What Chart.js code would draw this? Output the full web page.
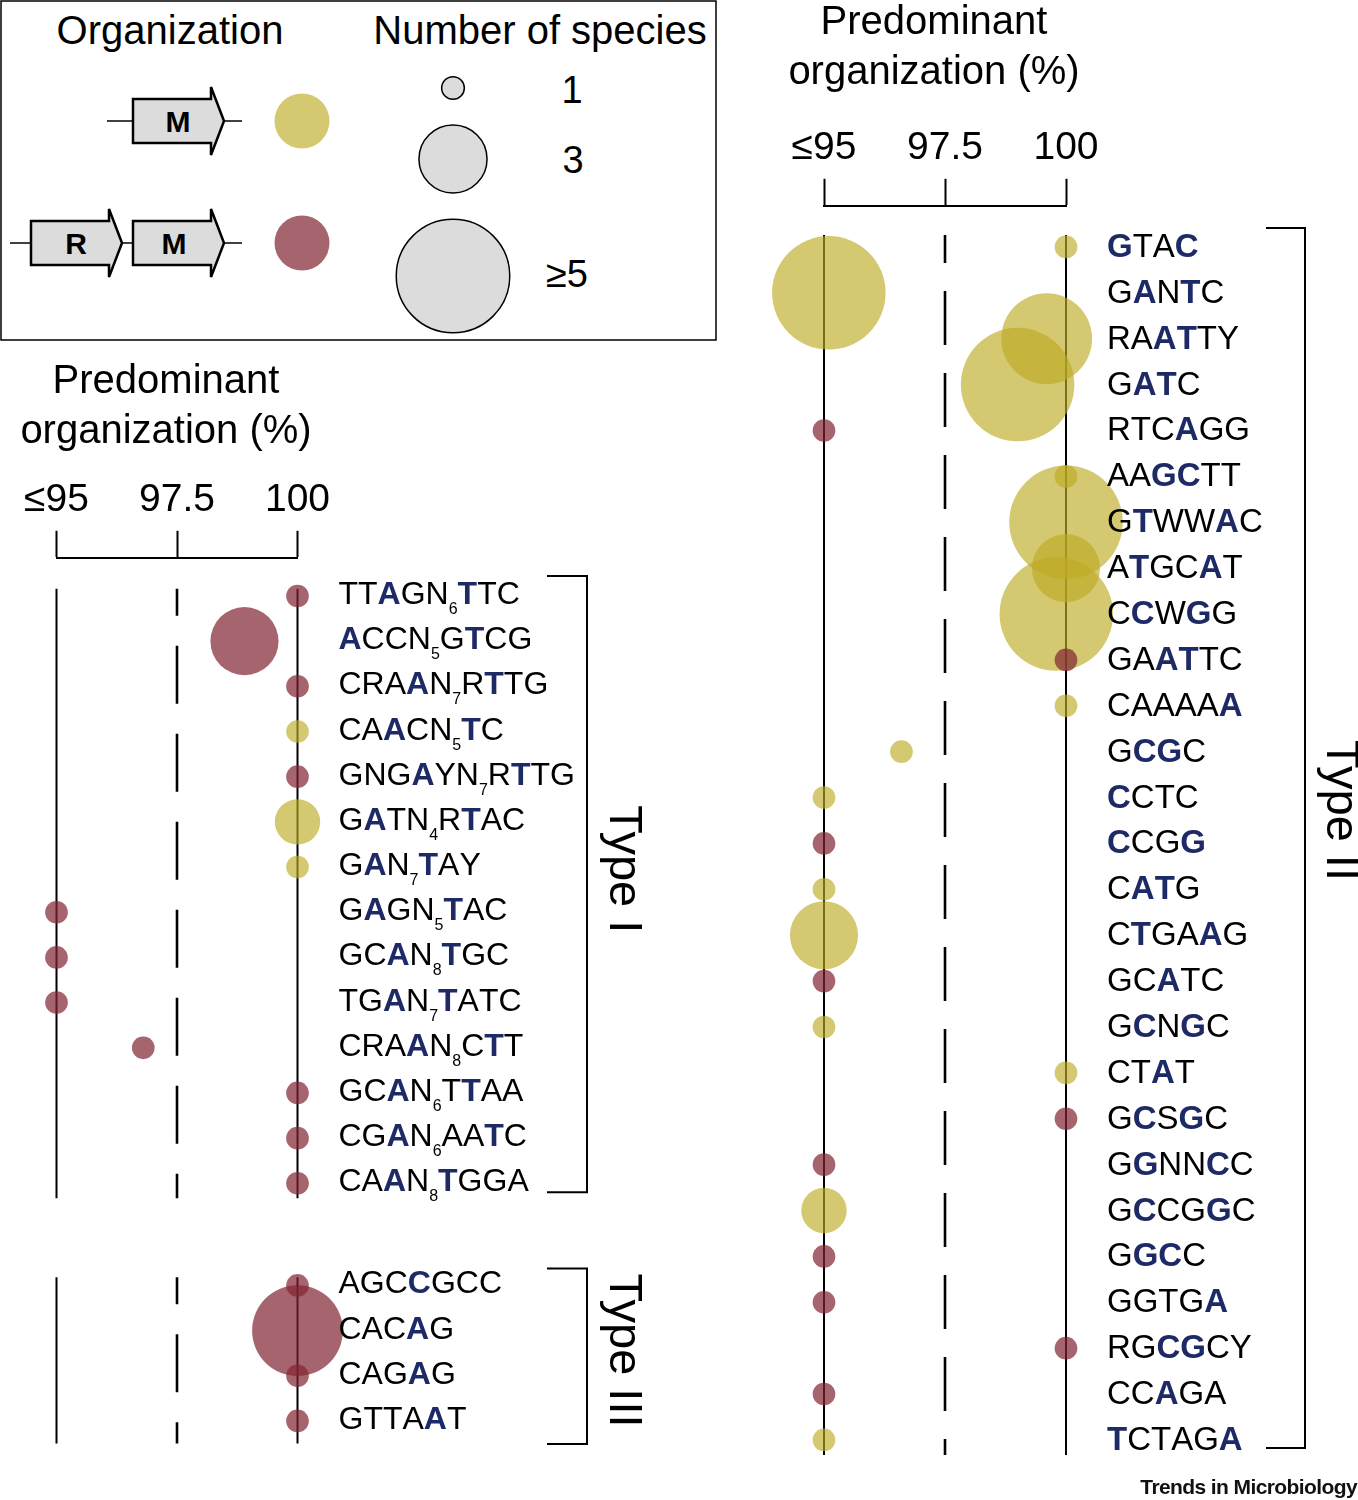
<!DOCTYPE html>
<html><head><meta charset="utf-8">
<script src="https://cdn.jsdelivr.net/npm/chart.js@4.4.1/dist/chart.umd.min.js"></script>
<style>
html,body{margin:0;padding:0;background:#fff;}
body{width:1358px;height:1500px;overflow:hidden;position:relative;font-family:"Liberation Sans",Arial,Helvetica,sans-serif;}
#legend{position:absolute;left:0;top:0;}
#cLeft{position:absolute;left:0;top:345px;}
#cRight{position:absolute;left:720px;top:-20px;}
#credit{position:absolute;right:1px;top:1476px;font:bold 21px "Liberation Sans",Arial,sans-serif;letter-spacing:-0.6px;line-height:22px;color:#111;}
</style></head><body>
<svg id="legend" width="720" height="345" xmlns="http://www.w3.org/2000/svg"></svg>
<canvas id="cLeft" width="720" height="1155"></canvas>
<canvas id="cRight" width="638" height="1520"></canvas>
<div id="credit">Trends in Microbiology</div>
<script>
// ---------------- DATA ----------------
const TICK_VALUES = [95, 97.5, 100];
const TICK_LABELS = ['≤95', '97.5', '100'];
const AXIS_TITLE = ['Predominant', 'organization (%)'];
const SPECIES_KEYS = [1, 3, 5];
const SPECIES_LABELS = ['1', '3', '≥5'];
const ORG_KEYS = ['M', 'RM'];

// [X] = bold blue letter, {n} = subscript
const typeI_motifs = ['TT[A]GN{6}[T]TC', '[A]CCN{5}G[T]CG', 'CRA[A]N{7}R[T]TG', 'CA[A]CN{5}[T]C',
  'GNG[A]YN{7}R[T]TG', 'G[A]TN{4}R[T]AC', 'G[A]N{7}[T]AY', 'G[A]GN{5}[T]AC', 'GC[A]N{8}[T]GC',
  'TG[A]N{7}[T]ATC', 'CRA[A]N{8}C[T]T', 'GC[A]N{6}T[T]AA', 'CG[A]N{6}AA[T]C', 'CA[A]N{8}[T]GGA'];
const typeI_pct     = [100, 98.9, 100, 100, 100, 100, 100, 95, 95, 95, 96.8, 100, 100, 100];
const typeI_species = [1, 3, 1, 1, 1, 2, 1, 1, 1, 1, 1, 1, 1, 1];
const typeI_org     = ['RM', 'RM', 'RM', 'M', 'RM', 'M', 'M', 'RM', 'RM', 'RM', 'RM', 'RM', 'RM', 'RM'];

const typeIII_motifs  = ['AGC[C]GCC', 'CAC[A]G', 'CAG[A]G', 'GTTA[A]T'];
const typeIII_pct     = [100, 100, 100, 100];
const typeIII_species = [1, 4, 1, 1];
const typeIII_org     = ['RM', 'RM', 'RM', 'RM'];

const typeII_motifs = ['[G]TA[C]', 'G[A]N[T]C', 'RA[AT]TY', 'G[AT]C', 'RTC[A]GG', 'AA[GC]TT', 'G[T]WW[A]C',
  'A[T]GC[A]T', 'C[C]W[G]G', 'GA[AT]TC', 'CAAAA[A]', 'G[CG]C', '[C]CTC', '[C]CG[G]', 'C[AT]G', 'C[T]GA[A]G',
  'GC[A]TC', 'G[C]N[G]C', 'CT[A]T', 'G[C]S[G]C', 'G[G]NN[C]C', 'G[C]CG[G]C', 'G[GC]C', 'GGTG[A]',
  'RG[CG]CY', 'CC[A]GA', '[T]CTAG[A]'];
const typeII_pct     = [100, 95.1, 99.6, 99.0, 95, 100, 100, 100, 99.8, 100, 100, 96.6, 95, 95, 95, 95,
  95, 95, 100, 100, 95, 95, 95, 95, 100, 95, 95];
const typeII_species = [1, 5, 4, 5, 1, 1, 5, 3, 5, 1, 1, 1, 1, 1, 1, 3, 1, 1, 1, 1, 1, 2, 1, 1, 1, 1, 1];
const typeII_org     = ['M', 'M', 'M', 'M', 'RM', 'M', 'M', 'M', 'M', 'RM', 'M', 'M', 'M', 'RM', 'M', 'M',
  'RM', 'M', 'M', 'RM', 'RM', 'M', 'RM', 'RM', 'RM', 'RM', 'M'];

// ---------------- STYLE ----------------
const FONT = '"Liberation Sans", Arial, Helvetica, sans-serif';
const ORG_COLORS = {M: 'rgba(189,170,35,0.65)', RM: 'rgba(128,36,48,0.7)'};
const BLUE = '#1e2a66';
const R_UNIT = 11.35; // px radius per species
Chart.defaults.font.family = FONT;
Chart.defaults.color = '#000';

// ---------------- LEGEND (SVG) ----------------
(function buildLegend() {
  const svg = document.getElementById('legend');
  const NS = 'http://www.w3.org/2000/svg';
  function el(tag, attrs, text) {
    const e = document.createElementNS(NS, tag);
    for (const k in attrs) e.setAttribute(k, attrs[k]);
    if (text !== undefined) e.textContent = text;
    svg.appendChild(e); return e;
  }
  const tf = {'font-family': FONT, fill: '#000'};
  el('rect', {x: 1, y: 1, width: 715, height: 339, fill: 'none', stroke: '#000', 'stroke-width': 1.5});
  el('text', Object.assign({x: 170, y: 44, 'text-anchor': 'middle', 'font-size': 40}, tf), 'Organization');
  el('text', Object.assign({x: 540, y: 44, 'text-anchor': 'middle', 'font-size': 40}, tf), 'Number of species');
  function gene(x0, x1, tip, cy, letter, lx) {
    el('polygon', {points: `${x0},${cy-22} ${x1},${cy-22} ${x1},${cy-34} ${tip},${cy} ${x1},${cy+34} ${x1},${cy+22} ${x0},${cy+22}`,
      fill: '#dcdcdc', stroke: '#000', 'stroke-width': 2.5, 'stroke-linejoin': 'miter'});
    el('text', Object.assign({x: lx, y: cy + 11, 'text-anchor': 'middle', 'font-size': 30, 'font-weight': 'bold'}, tf), letter);
  }
  function line(x0, x1, y) { el('line', {x1: x0, y1: y, x2: x1, y2: y, stroke: '#000', 'stroke-width': 1.5}); }
  line(107, 133, 121); line(224, 242, 121);
  gene(133, 211, 224, 121, 'M', 178);
  line(10, 31, 243); line(122, 133, 243); line(224, 242, 243);
  gene(31, 109, 122, 243, 'R', 76);
  gene(133, 211, 224, 243, 'M', 174);
  el('circle', {cx: 302, cy: 121, r: 27.5, fill: ORG_COLORS[ORG_KEYS[0]]});
  el('circle', {cx: 302, cy: 243, r: 27.5, fill: ORG_COLORS[ORG_KEYS[1]]});
  const cys = [88, 159, 276], bls = [103, 173, 287], lxs = [572, 573, 567];
  SPECIES_KEYS.forEach((n, i) => {
    el('circle', {cx: 453, cy: cys[i], r: R_UNIT * n, fill: '#dcdcdc', stroke: '#000', 'stroke-width': 1.5});
    el('text', Object.assign({x: lxs[i], y: bls[i], 'text-anchor': 'middle', 'font-size': 38}, tf), SPECIES_LABELS[i]);
  });
})();

// ---------------- CHARTS ----------------
function drawMotif(ctx, s, x, y, size, subSize, subDy) {
  let bold = false, sub = false;
  ctx.textAlign = 'left'; ctx.textBaseline = 'alphabetic';
  for (const ch of s) {
    if (ch === '[') { bold = true; continue; }
    if (ch === ']') { bold = false; continue; }
    if (ch === '{') { sub = true; continue; }
    if (ch === '}') { sub = false; continue; }
    const fs = sub ? subSize : size;
    ctx.font = (bold ? 'bold ' : '') + fs + 'px ' + FONT;
    ctx.fillStyle = bold ? BLUE : '#000';
    ctx.fillText(ch, x, sub ? y + subDy : y);
    x += ctx.measureText(ch).width;
  }
}

function makeChart(canvasId, groups, L) {
  const datasets = [];
  ['RM', 'M'].forEach((key, k) => {
    const data = [];
    groups.forEach(g => g.pct.forEach((p, i) => {
      if (g.org[i] === key) data.push({x: p, y: g.start + i, r: R_UNIT * Math.min(g.species[i], 5)});
    }));
    datasets.push({type: 'bubble', data, backgroundColor: ORG_COLORS[key], borderWidth: 0, order: k, clip: false});
  });
  groups.forEach(g => {
    const y0 = g.start - g.lineTop, y1 = g.start + g.motifs.length - 1 + g.lineBot;
    TICK_VALUES.forEach((v, j) => {
      const dashed = j > 0 && j < TICK_VALUES.length - 1;
      datasets.push({type: 'line', data: [{x: v, y: y0}, {x: v, y: y1}], borderColor: '#000',
        borderWidth: dashed ? 2.6 : 2, borderDash: dashed ? L.dash : [], borderDashOffset: dashed ? L.dashOffset : 0,
        pointRadius: 0, fill: false, tension: 0, order: 2, clip: false});
    });
  });

  const annot = {
    id: 'annot',
    afterDraw(chart) {
      const ctx = chart.ctx;
      ctx.save();
      ctx.font = '40px ' + FONT; ctx.textAlign = 'center'; ctx.textBaseline = 'middle'; ctx.fillStyle = '#000';
      AXIS_TITLE.forEach((t, i) => ctx.fillText(t, L.titleX, L.titleY + i * L.titleLH));
      ctx.restore();
    },
    afterDatasetsDraw(chart) {
      const ctx = chart.ctx, xs = chart.scales.x, ys = chart.scales.y;
      const x100 = xs.getPixelForValue(TICK_VALUES[TICK_VALUES.length - 1]);
      ctx.save();
      groups.forEach(g => {
        g.motifs.forEach((m, i) => drawMotif(ctx, m, x100 + L.labelGap,
          ys.getPixelForValue(g.start + i) + L.baseDy, L.fontSize, L.subSize, L.subDy));
        const yTop = ys.getPixelForValue(g.start) - g.brTop;
        const yBot = ys.getPixelForValue(g.start + g.motifs.length - 1) + g.brBot;
        const bx = x100 + L.bracketX;
        ctx.beginPath();
        ctx.moveTo(bx - L.bracketW, yTop); ctx.lineTo(bx, yTop); ctx.lineTo(bx, yBot); ctx.lineTo(bx - L.bracketW, yBot);
        ctx.lineWidth = 2; ctx.strokeStyle = '#000'; ctx.stroke();
        const yMid = ys.getPixelForValue(g.start + (g.motifs.length - 1) / 2 + g.labelShift);
        ctx.save();
        ctx.translate(bx + L.typeDx, yMid); ctx.rotate(Math.PI / 2);
        ctx.font = '47px ' + FONT; ctx.textAlign = 'center'; ctx.textBaseline = 'alphabetic'; ctx.fillStyle = '#000';
        ctx.fillText(g.name, 0, 0);
        ctx.restore();
      });
      ctx.restore();
    }
  };

  return new Chart(document.getElementById(canvasId), {
    type: 'bubble',
    data: {datasets},
    options: {
      responsive: false, animation: false, devicePixelRatio: 1, events: [],
      layout: {padding: L.padding, autoPadding: false},
      plugins: {legend: {display: false}, tooltip: {enabled: false}},
      scales: {
        x: {
          type: 'linear', position: 'top', min: TICK_VALUES[0], max: TICK_VALUES[TICK_VALUES.length - 1],
          afterBuildTicks: s => { s.ticks = TICK_VALUES.map(v => ({value: v})); },
          ticks: {callback: v => TICK_LABELS[TICK_VALUES.indexOf(v)], font: {size: 39}, color: '#000',
            padding: 7, maxRotation: 0, autoSkip: false},
          grid: {drawOnChartArea: false, drawTicks: true, tickLength: 27, tickWidth: 2, tickColor: '#000'},
          border: {display: true, color: '#000', width: 2},
          title: {display: false}
        },
        y: {type: 'linear', display: false, reverse: true, min: L.yMin, max: L.yMax}
      }
    },
    plugins: [annot]
  });
}

const TYPE_I_START = 0;
const TYPE_III_START = typeI_motifs.length - 1 + 2.26;

makeChart('cLeft', [
  {name: 'Type I', motifs: typeI_motifs, pct: typeI_pct, species: typeI_species, org: typeI_org,
   start: TYPE_I_START, lineTop: 0.16, lineBot: 0.33, brTop: 20, brBot: 9, labelShift: -0.45},
  {name: 'Type III', motifs: typeIII_motifs, pct: typeIII_pct, species: typeIII_species, org: typeIII_org,
   start: TYPE_III_START, lineTop: 0.18, lineBot: 0.5, brTop: 17, brBot: 23, labelShift: -0.06}
], {padding: {left: 56.5, right: 422.5, top: 125, bottom: 40}, yMin: -0.845, yMax: 19.124,
    titleX: 166, titleY: 37, titleLH: 50,
    dash: [58, 30], dashOffset: 31, labelGap: 41, baseDy: 8, fontSize: 32, subSize: 16, subDy: 10,
    bracketX: 289.5, bracketW: 40, typeDx: 23});

makeChart('cRight', [
  {name: 'Type II', motifs: typeII_motifs, pct: typeII_pct, species: typeII_species, org: typeII_org,
   start: 0, lineTop: 0.26, lineBot: 0.33, brTop: 19, brBot: 8, labelShift: -0.72}
], {padding: {left: 104, right: 292, top: 138, bottom: 20}, yMin: -0.897, yMax: 26.873,
    titleX: 214, titleY: 43, titleLH: 50,
    dash: [54, 28], dashOffset: 26, labelGap: 41, baseDy: 10, fontSize: 33, subSize: 16, subDy: 10,
    bracketX: 239, bracketW: 39, typeDx: 22});
</script>
</body></html>
